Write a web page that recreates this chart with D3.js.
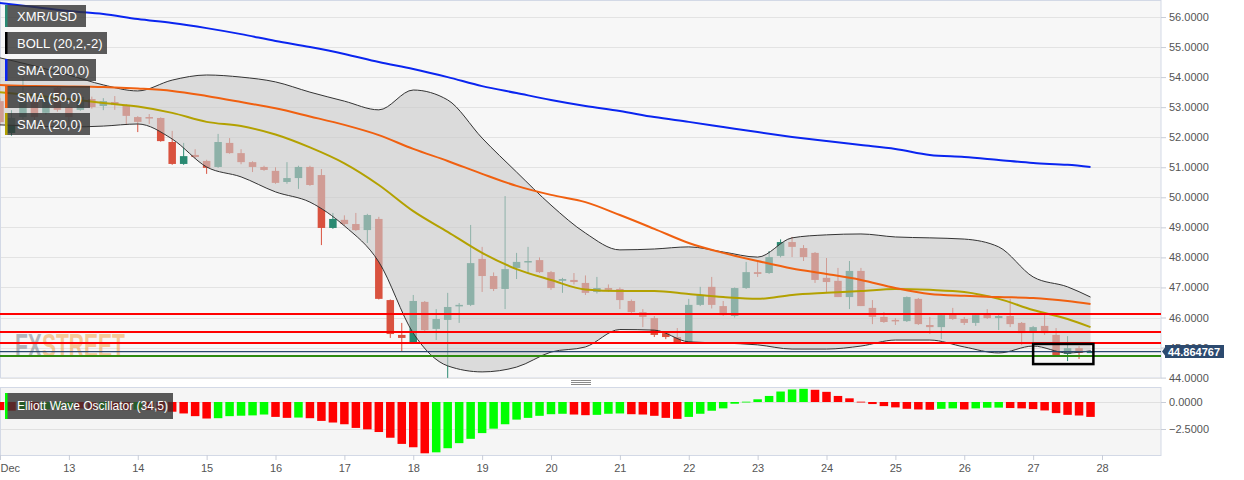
<!DOCTYPE html>
<html><head><meta charset="utf-8">
<script src="https://cdn.jsdelivr.net/npm/d3@7"></script>
<style>
html,body{margin:0;padding:0;background:#fff;}
svg{display:block;font-family:"Liberation Sans",Arial,sans-serif;}
</style></head><body>
<svg id="chart" width="1244" height="480"></svg>
<script>
// ---------- DATA ----------
const symbol = "XMR/USD";
const startTime = "2018-12-12T00:00:00Z";   // first 4h candle
const intervalHours = 4;
const open  = [53.20,52.14,52.67,53.24,52.81,53.64,53.00,52.91,53.27,53.04,53.17,53.04,52.67,52.67,52.64,51.84,51.11,51.41,51.21,51.01,51.81,51.47,51.17,51.01,50.88,50.51,50.64,51.01,50.74,48.98,49.25,49.11,48.91,49.28,46.58,45.42,45.18,46.52,45.62,45.92,46.38,46.42,47.95,47.38,46.95,47.65,47.85,47.91,47.51,47.22,47.25,47.15,46.85,46.98,46.95,46.55,46.18,45.98,45.48,45.35,45.18,46.42,47.02,46.38,46.05,46.98,47.51,47.48,48.05,48.51,48.31,48.15,47.32,47.22,46.68,47.55,46.32,46.02,45.92,45.88,46.62,45.75,45.68,46.12,45.95,45.82,46.12,45.98,46.05,45.82,45.55,45.72,45.42,44.79,44.98,44.85];
const high  = [53.30,52.90,54.00,53.30,53.35,53.70,53.05,53.45,53.35,53.30,53.37,53.10,52.70,52.77,52.66,52.21,51.81,51.60,51.25,52.11,51.97,51.60,51.20,51.05,51.00,51.17,51.05,51.05,50.94,49.48,49.40,49.48,49.45,49.35,46.60,45.82,46.75,46.55,46.28,46.82,46.48,49.08,48.35,47.50,50.04,48.15,48.35,48.00,47.55,47.32,47.48,47.40,47.35,47.10,47.00,46.60,46.28,46.05,45.50,45.65,46.62,47.02,47.35,46.55,47.00,47.85,47.85,48.21,48.60,48.68,48.41,48.18,47.98,47.65,47.88,47.65,46.58,46.18,45.98,46.70,46.65,46.02,46.10,46.32,46.02,46.10,46.28,46.08,46.62,45.85,45.72,46.08,45.65,45.38,45.05,44.90];
const low   = [52.40,52.05,52.60,52.55,52.75,52.85,52.40,52.88,52.95,52.90,52.91,52.41,52.17,52.44,51.85,51.08,51.08,51.30,50.78,50.98,51.45,51.10,50.84,50.88,50.45,50.45,50.28,50.38,48.41,48.95,49.05,48.88,48.48,46.60,45.32,44.88,45.15,45.55,45.25,43.99,45.82,46.38,46.85,46.88,46.28,47.28,47.48,47.48,46.92,46.82,47.10,46.75,46.80,46.85,46.28,46.15,45.68,45.35,45.28,45.15,45.15,46.38,46.30,46.05,46.00,46.95,47.35,47.45,48.00,48.01,47.88,47.15,46.85,46.68,46.28,46.38,45.78,45.82,45.75,45.85,45.75,45.45,45.28,45.92,45.75,45.72,45.95,45.58,45.68,45.08,45.15,45.42,44.72,44.55,44.62,44.82];
const close = [52.50,52.64,53.24,52.67,53.30,52.91,52.67,53.34,53.00,53.20,53.07,52.71,52.51,52.64,51.87,51.11,51.37,51.34,50.98,51.84,51.47,51.17,51.01,50.91,50.48,50.64,51.01,50.41,48.98,49.28,49.11,48.91,49.41,46.62,45.45,45.32,46.55,45.58,45.95,46.35,46.42,47.81,47.38,46.95,47.61,47.85,47.88,47.51,46.98,47.28,47.18,46.82,46.98,46.92,46.58,46.18,46.02,45.42,45.35,45.18,46.42,46.75,46.42,46.08,46.98,47.51,47.45,48.01,48.51,48.35,48.01,47.25,47.18,46.68,47.55,46.38,46.02,45.85,45.88,46.68,45.78,45.68,46.08,45.95,45.82,46.08,45.98,46.05,45.78,45.48,45.68,45.48,44.75,44.98,44.82,44.865];
const ewo   = [-0.75,-0.8,-0.7,-0.75,-0.65,-0.6,-0.55,-0.6,-0.7,-0.65,-0.7,-0.75,-0.7,-0.75,-0.8,-0.9,-1.06,-1.31,-1.53,-1.5,-1.31,-1.27,-1.24,-1.16,-1.38,-1.47,-1.44,-1.5,-1.75,-1.9,-2.06,-2.4,-2.53,-2.78,-3.31,-3.88,-4.19,-4.75,-4.66,-4.28,-3.81,-3.41,-2.88,-2.47,-2.06,-1.63,-1.47,-1.28,-1.13,-1.09,-1.16,-1.22,-1.19,-1.09,-1.06,-1.13,-1.16,-1.28,-1.47,-1.56,-1.38,-1.09,-0.81,-0.59,-0.16,0.03,0.25,0.56,0.97,1.16,1.22,1.13,0.94,0.56,0.34,0.03,-0.19,-0.38,-0.5,-0.63,-0.69,-0.72,-0.63,-0.59,-0.69,-0.59,-0.53,-0.52,-0.56,-0.59,-0.66,-0.78,-1.03,-1.19,-1.25,-1.38];
// indicator lines, read at these candle indices
const lineIdx   = [0,3,6,9,12,15,18,21,24,27,30,33,36,39,42,45,48,51,54,57,60,63,66,69,72,75,78,81,84,87,90,93,95];
const bollUpper = [54.64,54.37,54.07,53.74,53.54,53.90,54.07,54.00,53.84,53.50,53.20,52.91,53.57,53.24,51.97,50.84,49.74,48.81,48.25,48.28,48.35,48.18,48.01,48.65,48.75,48.78,48.68,48.65,48.61,48.35,47.35,47.02,46.68];
const bollLower = [52.41,52.37,52.34,52.37,52.44,51.94,51.01,50.68,50.18,49.84,49.05,47.85,45.48,44.39,44.19,44.35,44.85,45.02,45.60,45.58,45.19,45.15,45.09,44.95,44.95,45.05,45.25,45.25,45.02,44.82,45.05,44.82,44.89];
const sma200    = [56.47,56.33,56.20,56.10,55.93,55.80,55.63,55.43,55.20,55.00,54.77,54.50,54.27,54.00,53.70,53.47,53.24,53.04,52.87,52.67,52.51,52.34,52.17,52.01,51.87,51.74,51.61,51.41,51.34,51.24,51.14,51.08,51.01];
const sma50     = [53.74,53.70,53.69,53.67,53.62,53.54,53.37,53.17,52.96,52.69,52.41,52.07,51.61,51.21,50.78,50.38,50.08,49.84,49.41,48.95,48.48,48.15,47.88,47.63,47.45,47.25,46.98,46.78,46.72,46.68,46.65,46.55,46.45];
const sma20     = [53.50,53.39,53.27,53.14,53.02,52.81,52.51,52.37,52.09,51.66,51.13,50.41,49.54,48.85,48.15,47.61,47.25,46.93,46.88,46.88,46.78,46.68,46.62,46.75,46.82,46.88,46.95,46.92,46.85,46.62,46.25,45.95,45.68];
const redLevels  = [46.12, 45.52, 45.15];
const greenLevel = 44.72;
const lastPrice  = 44.864767;
const boxTimes   = ["2018-12-27T00:00:00Z", "2018-12-27T21:00:00Z"];
const boxPrices  = [45.12, 44.45];
const priceTicks = [44,45,46,47,48,49,50,51,52,53,54,55,56];
const oscTicks   = [0, -2.5];
const dayLabels  = ["Dec","13","14","15","16","17","18","19","20","21","22","23","24","25","26","27","28"];
const legendItems = [
  {label:"XMR/USD", color:"#2a8a73", w:81},
  {label:"BOLL (20,2,-2)", color:"#000000", w:102},
  {label:"SMA (200,0)", color:"#0a25f0", w:91},
  {label:"SMA (50,0)", color:"#f06010", w:85},
  {label:"SMA (20,0)", color:"#b3a100", w:85}
];
const oscLabel = "Elliott Wave Oscillator (34,5)";

// ---------- LAYOUT ----------
const plotRight = 1161, mainTop = 0, mainBottom = 378, oscTop = 387, oscBottom = 455;
const svg = d3.select("#chart");
const t0 = new Date(startTime);
const times = open.map((_, i) => new Date(t0.getTime() + i * intervalHours * 3600e3));
const dayDates = dayLabels.map((_, i) => new Date(Date.UTC(2018, 11, 12 + i)));
const x = d3.scaleUtc().domain([dayDates[0], dayDates[dayDates.length - 1]]).range([0, 1102]);
const y = d3.scaleLinear().domain([44, 56]).range([377.6, 17]);
const yo = d3.scaleLinear().domain([0, -2.5]).range([402, 429]);

const UP = "#2a8a72", DOWN = "#d9523f";

const defs = svg.append("defs");
defs.append("clipPath").attr("id", "clipMain").append("rect").attr("x", 0).attr("y", mainTop).attr("width", plotRight).attr("height", mainBottom - mainTop);
defs.append("clipPath").attr("id", "clipOsc").append("rect").attr("x", 0).attr("y", oscTop).attr("width", plotRight).attr("height", oscBottom - oscTop);

// panels
svg.append("rect").attr("x", 0.5).attr("y", 0.5).attr("width", plotRight - 0.5).attr("height", mainBottom - 0.5)
  .attr("fill", "#f7f7f7").attr("stroke", "#d3d9e6");
svg.append("rect").attr("x", 0.5).attr("y", oscTop + 0.5).attr("width", plotRight - 0.5).attr("height", oscBottom - oscTop)
  .attr("fill", "#f5f5f5").attr("stroke", "#d3d9e6");

// grid
svg.append("g").selectAll("line").data(priceTicks).join("line")
  .attr("x1", 1).attr("x2", plotRight).attr("y1", d => Math.round(y(d)) + 0.5).attr("y2", d => Math.round(y(d)) + 0.5)
  .attr("stroke", "#e3e3e3");
svg.append("g").selectAll("line").data(oscTicks).join("line")
  .attr("x1", 1).attr("x2", plotRight).attr("y1", d => Math.round(yo(d)) + 0.5).attr("y2", d => Math.round(yo(d)) + 0.5)
  .attr("stroke", "#e0e0e0");

// watermark (one text, two coloured parts)
const wm = svg.append("text").attr("x", 15).attr("y", 357).attr("opacity", 0.5)
  .attr("font-family", "'Liberation Sans Narrow','Liberation Sans',Arial,sans-serif")
  .attr("font-weight", "bold").attr("font-size", 33).attr("textLength", 110).attr("lengthAdjust", "spacingAndGlyphs");
wm.append("tspan").attr("fill", "#6f7682").text("FX");
wm.append("tspan").attr("fill", "#f39a3c").text("STREET");

const main = svg.append("g").attr("clip-path", "url(#clipMain)");

// candles
const candles = open.map((o, i) => ({t: times[i], o, h: high[i], l: low[i], c: close[i]}));
const cg = main.append("g");
cg.selectAll("line").data(candles).join("line")
  .attr("x1", d => x(d.t)).attr("x2", d => x(d.t))
  .attr("y1", d => y(d.h)).attr("y2", d => y(d.l))
  .attr("stroke", d => d.c >= d.o ? UP : DOWN).attr("stroke-width", 1);
cg.selectAll("rect").data(candles).join("rect")
  .attr("x", d => x(d.t) - 3.75).attr("width", 7.5)
  .attr("y", d => y(Math.max(d.o, d.c)))
  .attr("height", d => Math.max(1.5, Math.abs(y(d.o) - y(d.c))))
  .attr("fill", d => d.c >= d.o ? UP : DOWN);

// bollinger band
const band = lineIdx.map((k, i) => ({t: times[k], u: bollUpper[i], l: bollLower[i]}));
main.append("path").datum(band)
  .attr("d", d3.area().x(d => x(d.t)).y0(d => y(d.l)).y1(d => y(d.u)).curve(d3.curveMonotoneX))
  .attr("fill", "#c9c9c9").attr("fill-opacity", 0.62);
main.append("path").datum(band).attr("d", d3.line().x(d => x(d.t)).y(d => y(d.u)).curve(d3.curveMonotoneX))
  .attr("fill", "none").attr("stroke", "#333").attr("stroke-width", 1);
main.append("path").datum(band).attr("d", d3.line().x(d => x(d.t)).y(d => y(d.l)).curve(d3.curveMonotoneX))
  .attr("fill", "none").attr("stroke", "#333").attr("stroke-width", 1);

// SMAs
function drawLine(vals, color) {
  main.append("path").datum(lineIdx.map((k, i) => ({t: times[k], v: vals[i]})))
    .attr("d", d3.line().x(d => x(d.t)).y(d => y(d.v)).curve(d3.curveMonotoneX))
    .attr("fill", "none").attr("stroke", color).attr("stroke-width", 2);
}
drawLine(sma20, "#b3a100");
drawLine(sma50, "#f06010");
drawLine(sma200, "#0a25f0");

// levels
main.append("g").selectAll("line").data(redLevels).join("line")
  .attr("x1", 0).attr("x2", plotRight).attr("y1", d => y(d)).attr("y2", d => y(d))
  .attr("stroke", "#ff0000").attr("stroke-width", 2);
main.append("line").attr("x1", 0).attr("x2", plotRight).attr("y1", y(lastPrice)).attr("y2", y(lastPrice))
  .attr("stroke", "#2b4a6f").attr("stroke-width", 1.2);
main.append("line").attr("x1", 0).attr("x2", plotRight).attr("y1", y(greenLevel)).attr("y2", y(greenLevel))
  .attr("stroke", "#2e8a10").attr("stroke-width", 2);

// box
const bx0 = x(new Date(boxTimes[0])), bx1 = x(new Date(boxTimes[1]));
main.append("rect").attr("x", bx0).attr("y", y(boxPrices[0])).attr("width", bx1 - bx0)
  .attr("height", y(boxPrices[1]) - y(boxPrices[0]))
  .attr("fill", "none").attr("stroke", "#000").attr("stroke-width", 2.5);

// EWO
const osc = svg.append("g").attr("clip-path", "url(#clipOsc)");
osc.selectAll("rect").data(ewo.map((v, i) => ({t: times[i], v, up: i > 0 && v >= ewo[i - 1]}))).join("rect")
  .attr("x", d => x(d.t) - 4.25).attr("width", 8.5)
  .attr("y", d => yo(Math.max(0, d.v))).attr("height", d => Math.max(0.8, Math.abs(yo(d.v) - yo(0))))
  .attr("fill", d => d.up ? "#00ff00" : "#ff0000");

// axes
const fmt = d3.format(".4f");
const ay = svg.append("g").attr("transform", `translate(${plotRight},0)`)
  .call(d3.axisRight(y).tickValues(priceTicks).tickFormat(fmt).tickSize(5).tickPadding(3));
const ao = svg.append("g").attr("transform", `translate(${plotRight},0)`)
  .call(d3.axisRight(yo).tickValues(oscTicks).tickFormat(fmt).tickSize(5).tickPadding(3));
const ax = svg.append("g").attr("transform", `translate(0,${oscBottom})`)
  .call(d3.axisBottom(x).tickValues(dayDates).tickFormat((d, i) => dayLabels[i]).tickSize(5).tickPadding(4));
[ay, ao, ax].forEach(g => {
  g.select(".domain").remove();
  g.selectAll(".tick line").attr("stroke", "#c8cdd8");
  g.selectAll(".tick text").attr("fill", "#555").attr("font-size", 11).attr("font-family", "'Liberation Sans',Arial,sans-serif");
});
ax.selectAll(".tick text").filter((d, i) => i === 0).attr("text-anchor", "start").attr("x", 0);

// price tag
const py = y(lastPrice);
svg.append("path").attr("d", `M${plotRight + 1},${py} L${plotRight + 4},${py - 4} L${plotRight + 4},${py - 6.5} L1224,${py - 6.5} L1224,${py + 6.5} L${plotRight + 4},${py + 6.5} L${plotRight + 4},${py + 4} Z`)
  .attr("fill", "#2c4a6f");
svg.append("text").attr("x", 1168).attr("y", py + 4).attr("fill", "#fff").attr("font-size", 11).attr("font-weight", "bold")
  .text(lastPrice.toFixed(6));

// panel handle
svg.append("g").selectAll("line").data([0, 2, 4]).join("line")
  .attr("x1", 571).attr("x2", 591).attr("y1", d => 380.5 + d).attr("y2", d => 380.5 + d)
  .attr("stroke", "#8a8a8a").attr("stroke-width", 1);

// legends
function legend(x0, y0, w, h, color, label, fs) {
  const g = svg.append("g");
  g.append("rect").attr("x", x0).attr("y", y0).attr("width", w).attr("height", h).attr("fill", "rgba(50,50,50,0.8)");
  g.append("rect").attr("x", x0).attr("y", y0).attr("width", 2.5).attr("height", h).attr("fill", color);
  g.append("text").attr("x", x0 + 12).attr("y", y0 + h / 2 + fs * 0.35).attr("fill", "#fff").attr("font-size", fs).text(label);
}
legendItems.forEach((d, i) => legend(5, 5 + i * 27, d.w, 22, d.color, d.label, 13));
legend(5, 393, 168, 26, "#00ff00", oscLabel, 12);
</script>
</body></html>
